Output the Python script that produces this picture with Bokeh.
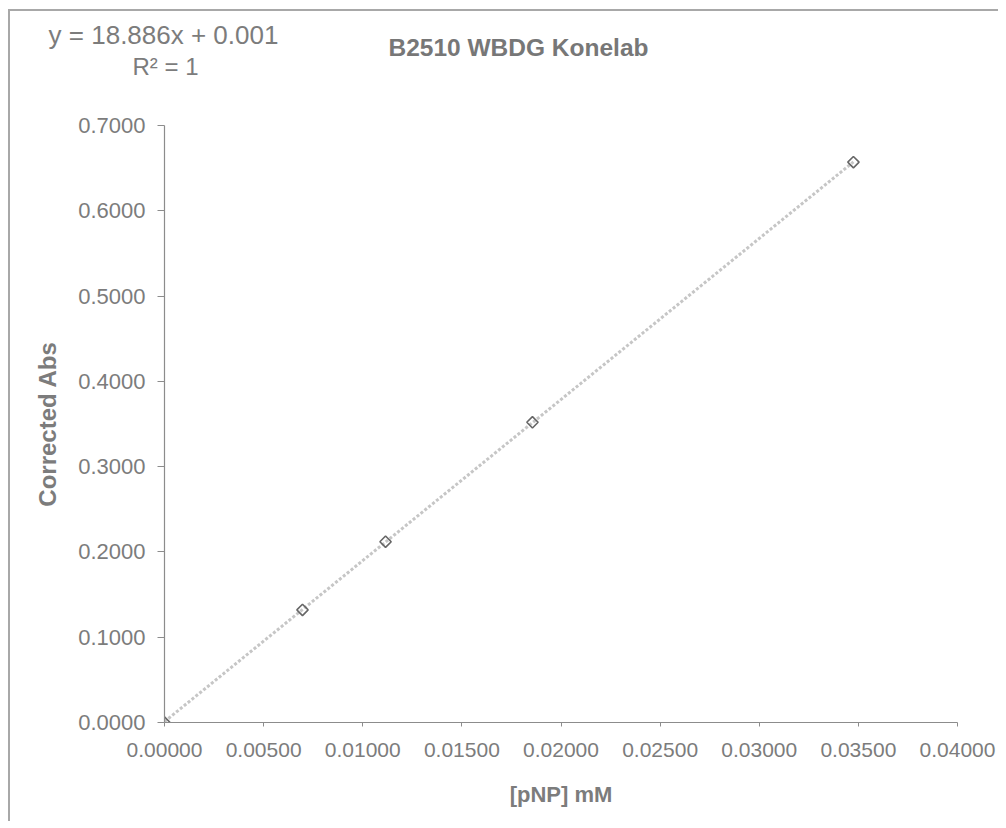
import math
from bokeh.plotting import figure
from bokeh.models import Label, FixedTicker, NumeralTickFormatter, ColumnDataSource, Range1d
from bokeh.embed import file_html
from bokeh.resources import INLINE

# ---- data ----
conc_mM = [0.0, 0.00696, 0.01115, 0.01856, 0.03475]
corrected_abs = [0.0, 0.132, 0.212, 0.352, 0.657]
slope = 18.886
intercept = 0.001
x_ticks = [0.0, 0.005, 0.010, 0.015, 0.020, 0.025, 0.030, 0.035, 0.040]
y_ticks = [0.0, 0.1, 0.2, 0.3, 0.4, 0.5, 0.6, 0.7]
title_text = "B2510 WBDG Konelab"
eq_text = "y = 18.886x + 0.001"
r2_text = "R\u00b2 = 1"
x_label = "[pNP] mM"
y_label = "Corrected Abs"

FONT = "Liberation Sans"
GRAY = "#7c7c7c"
AXIS = "#8c8c8c"
BORDER = "2px solid #a8a8a8"
W = 990
HEAD_H = 100
MAIN_H = 712

# ---- header strip (title, trendline equation) ----
head = figure(width=W, height=HEAD_H, output_backend="svg", toolbar_location=None,
              x_axis_location=None, y_axis_location=None, min_border=0,
              x_range=Range1d(0, W), y_range=Range1d(HEAD_H, 0))
head.outline_line_color = None
head.xgrid.visible = False
head.ygrid.visible = False
head.styles = {"margin-left": "8px", "margin-top": "9px",
               "border-left": BORDER, "border-top": BORDER}
head.add_layout(Label(x=506, y=34, x_units="canvas", y_units="canvas", text=title_text,
                      text_align="center", text_baseline="alphabetic", text_font=FONT,
                      text_font_style="bold", text_font_size="24.5px", text_color="#777777"))
head.add_layout(Label(x=151, y=21, x_units="canvas", y_units="canvas", text=eq_text,
                      text_align="center", text_baseline="alphabetic", text_font=FONT,
                      text_font_size="26px", text_color=GRAY))
head.add_layout(Label(x=153, y=53, x_units="canvas", y_units="canvas", text=r2_text,
                      text_align="center", text_baseline="alphabetic", text_font=FONT,
                      text_font_size="24px", text_color=GRAY))

# ---- main chart ----
p = figure(width=W, height=MAIN_H, output_backend="svg", toolbar_location=None,
           x_range=Range1d(x_ticks[0], x_ticks[-1]), y_range=Range1d(y_ticks[0], y_ticks[-1]),
           min_border_left=154, min_border_right=43, min_border_top=16, min_border_bottom=99)
p.outline_line_color = None
p.xgrid.visible = False
p.ygrid.visible = False
p.styles = {"margin-left": "8px", "border-left": BORDER}

trend_x = [0.0, max(conc_mM)]
trend_y = [slope * v + intercept for v in trend_x]
p.line(trend_x, trend_y, line_color="#c6c6c6", line_width=3, line_dash="3 2")

src = ColumnDataSource(dict(x=conc_mM, y=corrected_abs))
p.scatter("x", "y", source=src, marker="square", angle=math.pi / 4, size=8,
          fill_color="white", fill_alpha=0, line_color="#666666", line_width=1.6)

p.xaxis.ticker = FixedTicker(ticks=x_ticks)
p.yaxis.ticker = FixedTicker(ticks=y_ticks)
p.xaxis.formatter = NumeralTickFormatter(format="0.00000")
p.yaxis.formatter = NumeralTickFormatter(format="0.0000")
for ax in (p.xaxis[0], p.yaxis[0]):
    ax.axis_line_color = AXIS
    ax.axis_line_width = 1.2
    ax.major_tick_line_color = AXIS
    ax.major_tick_in = 0
    ax.minor_tick_line_color = None
    ax.major_label_text_font = FONT
    ax.major_label_text_color = GRAY
    ax.axis_label_text_font = FONT
    ax.axis_label_text_font_style = "bold"
    ax.axis_label_text_color = GRAY
p.xaxis.major_label_text_font_size = "21px"
p.yaxis.major_label_text_font_size = "22px"
p.xaxis.axis_label_text_font_size = "22px"
p.yaxis.axis_label_text_font_size = "24px"
p.xaxis.major_tick_out = 4
p.yaxis.major_tick_out = 7
p.xaxis.major_label_standoff = 16
p.yaxis.major_label_standoff = 12
p.xaxis.axis_label = x_label
p.yaxis.axis_label = y_label
p.xaxis.axis_label_standoff = 22
p.yaxis.axis_label_standoff = 14

open("out.html", "w").write(file_html([head, p], INLINE))
